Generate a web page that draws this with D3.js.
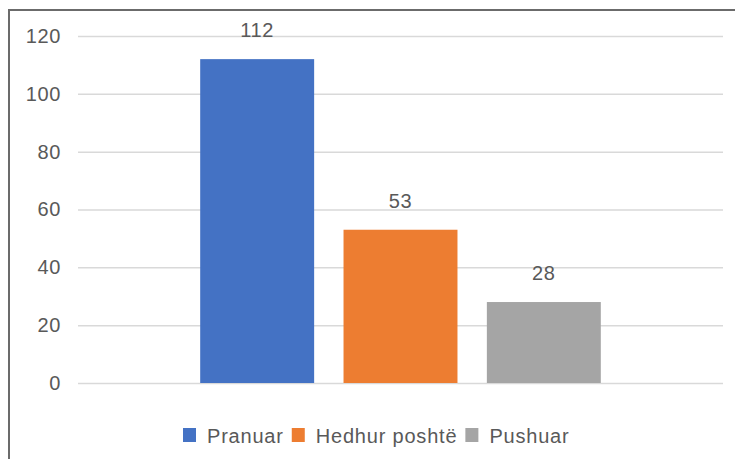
<!DOCTYPE html>
<html>
<head>
<meta charset="utf-8">
<script src="https://cdn.jsdelivr.net/npm/d3@7"></script>
<style>
  html, body { margin: 0; padding: 0; background: #fff; }
  svg text { font-family: "Liberation Sans", Arial, sans-serif; fill: #595959; }
</style>
</head>
<body>
<div class="chart-container"></div>
<script>
// Chart data
const series = ["Pranuar", "Hedhur poshtë", "Pushuar"];
const values = [112, 53, 28];
const colors = ["#4472C4", "#ED7D31", "#A5A5A5"];
const yTicks = [0, 20, 40, 60, 80, 100, 120];

const W = 735, H = 459;
const plot = { left: 78, right: 723, top: 36, bottom: 383 };

const svg = d3.select('.chart-container')
    .append('svg')
    .attr('width', W)
    .attr('height', H);

// Frame (top + left edges visible in the reference)
svg.append('path')
    .attr('d', `M9,${H} L9,10 L${W},10`)
    .attr('fill', 'none')
    .attr('stroke', '#6b6b6b')
    .attr('stroke-width', 2);

// Scales
const yScale = d3.scaleLinear()
    .domain([0, 120])
    .range([plot.bottom, plot.top]);

const groupScale = d3.scaleBand()
    .domain([''])
    .range([plot.left, plot.right])
    .paddingInner(0)
    .paddingOuter(0.25);

const xScale = d3.scaleBand()
    .domain(series)
    .range([groupScale(''), groupScale('') + groupScale.bandwidth()])
    .paddingInner(0.205)
    .paddingOuter(0.1025);

// Grid lines + y labels
const yAxis = svg.append('g')
    .attr('transform', `translate(${plot.left},0)`)
    .call(d3.axisLeft(yScale)
        .tickValues(yTicks)
        .tickSize(-(plot.right - plot.left))
        .tickPadding(17));

yAxis.select('.domain').remove();
yAxis.selectAll('.tick line')
    .attr('stroke', '#d9d9d9')
    .attr('stroke-width', 1.5);
yAxis.selectAll('.tick text')
    .attr('font-size', 20)
    .attr('letter-spacing', 0.6)
    .attr('font-family', '"Liberation Sans", Arial, sans-serif')
    .attr('fill', '#595959');

// Bars
svg.selectAll('.bar')
    .data(series)
    .enter()
    .append('rect')
    .attr('class', 'bar')
    .attr('x', d => xScale(d))
    .attr('width', xScale.bandwidth())
    .attr('y', (d, i) => yScale(values[i]))
    .attr('height', (d, i) => yScale(0) - yScale(values[i]))
    .attr('fill', (d, i) => colors[i]);

// Value labels
svg.selectAll('.value-label')
    .data(series)
    .enter()
    .append('text')
    .attr('class', 'value-label')
    .attr('x', d => xScale(d) + xScale.bandwidth() / 2)
    .attr('y', (d, i) => yScale(values[i]) - 22)
    .attr('text-anchor', 'middle')
    .attr('font-size', 20)
    .attr('letter-spacing', 0.6)
    .text((d, i) => values[i]);

// Legend
const legend = svg.append('g').attr('class', 'legend');
let lx = 183;
series.forEach((s, i) => {
    const item = legend.append('g').attr('transform', `translate(${lx},0)`);
    item.append('rect')
        .attr('x', 0)
        .attr('y', 428)
        .attr('width', 13)
        .attr('height', 14)
        .attr('fill', colors[i]);
    const t = item.append('text')
        .attr('x', 24)
        .attr('y', 443)
        .attr('font-size', 20)
        .attr('letter-spacing', 0.8)
        .text(s);
    lx += 24 + t.node().getComputedTextLength() + 8;
});
</script>
</body>
</html>
